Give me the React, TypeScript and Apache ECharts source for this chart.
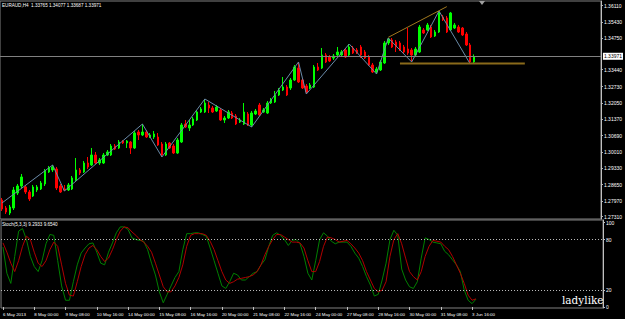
import React, { useEffect, useRef } from "react";
import * as echarts from "echarts";

const chartTitle = "EURAUD,H4  1.33765 1.34077 1.33687 1.33971";
const stochTitle = "Stoch(5,3,3) 9.2933 9.6540";
const watermark = "ladylike";

const timeLabels = [
  "6 May 2013", "8 May 00:00", "9 May 08:00", "10 May 16:00", "14 May 00:00", "15 May 08:00",
  "16 May 16:00", "20 May 00:00", "21 May 08:00", "22 May 16:00", "24 May 00:00", "27 May 08:00",
  "28 May 16:00", "30 May 00:00", "31 May 08:00", "3 Jun 16:00",
];

const opens = [
  1.28007, 1.27674, 1.27465, 1.27674, 1.28299, 1.28591, 1.2855, 1.28341, 1.28174, 1.28424,
  1.28466, 1.28675, 1.29175, 1.29259, 1.293, 1.28591, 1.28466, 1.28424, 1.28466, 1.28841,
  1.29259, 1.29175, 1.2955, 1.29467, 1.29884, 1.2955, 1.2955, 1.29884, 1.29884, 1.30259,
  1.30176, 1.30468, 1.30384, 1.30426, 1.30176, 1.30843, 1.30718, 1.30843, 1.30634, 1.30634,
  1.30634, 1.30342, 1.29884, 1.30384, 1.30259, 1.29967, 1.30426, 1.31176, 1.3101, 1.31135,
  1.31343, 1.31677, 1.31677, 1.31968, 1.31843, 1.31718, 1.3176, 1.31343, 1.31427, 1.31635,
  1.3151, 1.3126, 1.31176, 1.31593, 1.31135, 1.31593, 1.31968, 1.31677, 1.31635, 1.32052,
  1.32094, 1.32385, 1.32594, 1.32719, 1.32677, 1.33011, 1.33511, 1.33011, 1.32761, 1.32677,
  1.32719, 1.33553, 1.33511, 1.34054, 1.3397, 1.33928, 1.34054, 1.34054, 1.34262, 1.34054,
  1.34345, 1.34262, 1.34387, 1.34179, 1.3397, 1.33637, 1.33345, 1.33428, 1.3372, 1.34554,
  1.34679, 1.34596, 1.34554, 1.34387, 1.34304, 1.34262, 1.34054, 1.34179, 1.35096, 1.35096,
  1.35221, 1.34846, 1.35013, 1.35638, 1.35596, 1.35096, 1.35179, 1.35221, 1.35179, 1.34929,
  1.34471, 1.33765,
];
const closes = [
  1.27632, 1.27507, 1.27716, 1.28424, 1.28591, 1.28967, 1.28341, 1.28049, 1.2855, 1.2855,
  1.28716, 1.29217, 1.29342, 1.29384, 1.28508, 1.28341, 1.28424, 1.28633, 1.28925, 1.29259,
  1.29134, 1.2955, 1.29384, 1.29884, 1.2955, 1.29675, 1.29884, 1.30009, 1.30259, 1.30134,
  1.30426, 1.30384, 1.30468, 1.30176, 1.30801, 1.30718, 1.30843, 1.30634, 1.30718, 1.30759,
  1.30301, 1.29884, 1.30342, 1.30176, 1.29967, 1.30509, 1.31135, 1.31051, 1.31135, 1.31385,
  1.31677, 1.31802, 1.32052, 1.31843, 1.31677, 1.31885, 1.31343, 1.31427, 1.31677, 1.31427,
  1.31176, 1.31343, 1.31677, 1.31135, 1.31635, 1.31718, 1.31552, 1.3176, 1.32052, 1.32177,
  1.32385, 1.32594, 1.32719, 1.32385, 1.33011, 1.33553, 1.32928, 1.32677, 1.32511, 1.32802,
  1.33553, 1.33428, 1.34054, 1.33762, 1.33803, 1.34012, 1.34179, 1.34179, 1.3397, 1.34387,
  1.34137, 1.34137, 1.34054, 1.33928, 1.33637, 1.33345, 1.3347, 1.33762, 1.34554, 1.34721,
  1.34387, 1.34387, 1.34262, 1.34179, 1.34137, 1.34054, 1.34304, 1.35221, 1.34971, 1.35305,
  1.34804, 1.35013, 1.35847, 1.35513, 1.35013, 1.35805, 1.35305, 1.35013, 1.34888, 1.34471,
  1.33762, 1.33971,
];
const lows = [
  1.27549, 1.27424, 1.27382, 1.2759, 1.28216, 1.28508, 1.28258, 1.27966, 1.28133, 1.28341,
  1.28424, 1.28591, 1.29134, 1.29175, 1.28424, 1.28299, 1.28383, 1.28383, 1.28424, 1.288,
  1.2905, 1.29134, 1.293, 1.29425, 1.29509, 1.29467, 1.29509, 1.29842, 1.29842, 1.30092,
  1.30134, 1.30342, 1.30176, 1.29926, 1.30134, 1.30509, 1.30676, 1.30593, 1.30593, 1.30551,
  1.30259, 1.29801, 1.29842, 1.30134, 1.29926, 1.29926, 1.30384, 1.3101, 1.30884, 1.31093,
  1.31301, 1.31635, 1.31635, 1.31635, 1.31635, 1.31677, 1.31301, 1.31218, 1.31385, 1.31385,
  1.31135, 1.31218, 1.31135, 1.31093, 1.31051, 1.31552, 1.3151, 1.31635, 1.31593, 1.3201,
  1.32052, 1.32344, 1.32552, 1.32344, 1.32594, 1.32969, 1.32886, 1.32636, 1.32427, 1.32636,
  1.32677, 1.33386, 1.3347, 1.3372, 1.33762, 1.33845, 1.34012, 1.3397, 1.33928, 1.34012,
  1.34095, 1.34095, 1.33928, 1.33887, 1.33595, 1.33303, 1.33261, 1.33386, 1.33679, 1.34471,
  1.34345, 1.34179, 1.3422, 1.34095, 1.34054, 1.33762, 1.3397, 1.34137, 1.34929, 1.35054,
  1.34762, 1.34804, 1.34971, 1.35471, 1.34971, 1.35054, 1.35138, 1.34971, 1.34846, 1.34429,
  1.3368, 1.33687,
];
const highs = [
  1.28091, 1.27757, 1.27799, 1.2855, 1.28675, 1.29092, 1.28633, 1.28424, 1.28633, 1.28633,
  1.288, 1.293, 1.29425, 1.29467, 1.29384, 1.28675, 1.28633, 1.28716, 1.29008, 1.29759,
  1.29342, 1.29634, 1.29801, 1.30176, 1.30009, 1.29759, 1.29967, 1.30092, 1.30342, 1.30342,
  1.30509, 1.30509, 1.30509, 1.30468, 1.30884, 1.30926, 1.31176, 1.30926, 1.30801, 1.30884,
  1.30801, 1.30426, 1.30426, 1.30426, 1.30342, 1.30593, 1.31218, 1.31343, 1.31343, 1.31468,
  1.3176, 1.31885, 1.32219, 1.32094, 1.31927, 1.31968, 1.31843, 1.3151, 1.3176, 1.31718,
  1.31593, 1.31427, 1.32052, 1.31677, 1.31718, 1.31802, 1.32052, 1.31843, 1.32135, 1.3226,
  1.32552, 1.32677, 1.33136, 1.32802, 1.33094, 1.33637, 1.33762, 1.33094, 1.32844, 1.32886,
  1.33637, 1.3372, 1.34345, 1.34137, 1.34054, 1.34095, 1.34387, 1.34262, 1.34345, 1.34512,
  1.34429, 1.34345, 1.34471, 1.34262, 1.34054, 1.3372, 1.33553, 1.33845, 1.34637, 1.34762,
  1.34762, 1.34679, 1.34637, 1.34471, 1.35179, 1.34345, 1.34387, 1.35305, 1.35179, 1.35388,
  1.35305, 1.35096, 1.35888, 1.35722, 1.3568, 1.35847, 1.35388, 1.35305, 1.35221, 1.35013,
  1.34554, 1.34077,
];

const stochMain = [
  71, 40, 28, 60, 90, 93, 80, 60, 48, 42, 55, 75, 86, 85, 55, 25, 8, 8, 30, 50,
  64, 70, 75, 76, 65, 52, 50, 65, 76, 88, 95, 95, 92, 82, 80, 79, 78, 68, 52, 38,
  18, 5, 15, 25, 35, 42, 68, 87, 87, 88, 88, 86, 84, 70, 55, 40, 25, 22, 30, 40,
  38, 32, 32, 36, 40, 42, 50, 56, 72, 85, 88, 85, 80, 73, 79, 80, 75, 60, 40, 32,
  55, 80, 88, 84, 78, 75, 77, 77, 77, 72, 64, 58, 48, 36, 26, 13, 15, 32, 52, 80,
  91, 85, 45, 32, 24, 22, 30, 58, 82, 80, 77, 76, 75, 66, 62, 56, 50, 42, 20, 8,
  4, 9.2933,
];
const stochSignal = [
  76, 65, 52, 42, 55, 72, 84, 80, 65, 52, 48, 55, 68, 77, 72, 50, 28, 14, 13, 30,
  48, 62, 70, 73, 68, 60, 54, 58, 68, 80, 90, 95, 94, 89, 85, 80, 77, 72, 65, 52,
  38, 24, 18, 18, 25, 35, 50, 72, 85, 87, 87, 87, 85, 78, 68, 55, 42, 32, 28, 30,
  33, 34, 35, 36, 38, 42, 50, 62, 72, 80, 86, 86, 83, 80, 77, 77, 76, 70, 55, 42,
  42, 54, 72, 83, 82, 80, 77, 78, 79, 75, 70, 64, 55, 42, 32, 22, 18, 20, 30, 60,
  80, 87, 75, 58, 42, 36, 32, 42, 60, 72, 79, 78, 77, 72, 68, 60, 50, 40, 28, 14,
  8, 9.654,
];

const zigIdx = [0, 13, 16, 36, 41, 52, 64, 76, 78, 89, 96, 99, 105, 112, 120];
const zigVal = [1.27882, 1.29467, 1.28383, 1.31176, 1.29801, 1.32219, 1.31051, 1.33762, 1.32427, 1.34512, 1.33261, 1.34762, 1.33762, 1.35888, 1.3368];
const trendIdx = [99, 114];
const trendVal = [1.3479, 1.3607];
const supportIdx = [102, 134];
const supportVal = [1.337, 1.337];

const priceTicks = [1.2731, 1.2797, 1.2865, 1.2933, 1.3001, 1.3069, 1.3137, 1.3205, 1.3273, 1.3344, 1.3475, 1.3543, 1.3611];
const stochTicks = [0, 20, 80, 100];
const stochLevels = [20, 80];
const currentPrice = 1.33971;

const LABEL_EVERY = 8;
const SLOTS = 154;
const FONT = "'Liberation Sans', Arial, sans-serif";

function sparse(idx: number[], val: number[]) {
  const arr: (number | null)[] = new Array(SLOTS).fill(null);
  idx.forEach((k, j) => (arr[k] = val[j]));
  return arr;
}

export default function App() {
  const ref = useRef<HTMLDivElement>(null);
  useEffect(() => {
    document.body.style.margin = "0";
    document.body.style.background = "#000";
    const chart = echarts.init(ref.current!, null, { renderer: "svg" });
    const cats = Array.from({ length: SLOTS }, (_, i) => String(i));
    const showLabel = (i: number) => i % LABEL_EVERY === 0 && i / LABEL_EVERY < timeLabels.length;
    const candles = opens.map((o, i) => [o, closes[i], lows[i], highs[i]]);
    chart.setOption({
      animation: false,
      backgroundColor: "#000",
      grid: [
        { left: -2, right: 22, top: 1, height: 218, show: true, borderColor: "#808080", borderWidth: 1 },
        { left: -2, right: 22, top: 220, height: 88, show: true, borderColor: "#808080", borderWidth: 1 },
      ],
      xAxis: [
        { type: "category", gridIndex: 0, data: cats, axisLine: { show: false }, axisTick: { show: false }, axisLabel: { show: false }, splitLine: { show: false } },
        {
          type: "category", gridIndex: 1, data: cats, axisLine: { show: false },
          axisTick: { show: true, alignWithLabel: true, interval: (i: number) => showLabel(i), length: 3, lineStyle: { color: "#c0c0c0" } },
          axisLabel: {
            interval: (i: number) => showLabel(i), formatter: (_v: string, i: number) => timeLabels[i / LABEL_EVERY] ?? "",
            color: "#fff", fontSize: 4.4, fontFamily: FONT, align: "left", margin: 4, showMinLabel: true, hideOverlap: false,
          },
          splitLine: { show: false },
        },
      ],
      yAxis: [
        {
          type: "value", gridIndex: 0, position: "right", min: 1.27215, max: 1.36305, scale: true,
          axisLine: { show: true, lineStyle: { color: "#c0c0c0" } },
          axisTick: { show: true, length: 2, customValues: priceTicks, lineStyle: { color: "#c0c0c0" } },
          axisLabel: { customValues: priceTicks, formatter: (v: number) => v.toFixed(5), color: "#fff", fontSize: 5, fontFamily: FONT, margin: 3 },
          splitLine: { show: false },
        },
        {
          type: "value", gridIndex: 1, position: "right", min: -1.19, max: 103.2,
          axisLine: { show: true, lineStyle: { color: "#c0c0c0" } },
          axisTick: { show: true, length: 2, customValues: stochTicks, lineStyle: { color: "#c0c0c0" } },
          axisLabel: { customValues: stochTicks, formatter: (v: number) => String(v), color: "#fff", fontSize: 5, fontFamily: FONT, margin: 3 },
          splitLine: { show: false },
        },
      ],
      series: [
        {
          type: "candlestick", xAxisIndex: 0, yAxisIndex: 0, data: candles, barWidth: 2,
          itemStyle: { color: "#00ff00", color0: "#ff0000", borderColor: "#00ff00", borderColor0: "#ff0000", borderWidth: 1 },
          markLine: {
            silent: true, symbol: ["none", "none"], animation: false,
            lineStyle: { color: "#808080", width: 1, type: "solid" },
            label: { show: true, position: "end", formatter: currentPrice.toFixed(5), backgroundColor: "#fff", color: "#000", fontSize: 5, fontFamily: FONT, padding: [1, 1], distance: 2 },
            data: [{ yAxis: currentPrice }],
          },
        },
        { type: "line", xAxisIndex: 0, yAxisIndex: 0, data: sparse(zigIdx, zigVal), connectNulls: true, symbol: "none", lineStyle: { color: "#6a8aa8", width: 1 } },
        { type: "line", xAxisIndex: 0, yAxisIndex: 0, data: sparse(trendIdx, trendVal), connectNulls: true, symbol: "none", lineStyle: { color: "#a0781e", width: 1 } },
        { type: "line", xAxisIndex: 0, yAxisIndex: 0, data: sparse(supportIdx, supportVal), connectNulls: true, symbol: "none", lineStyle: { color: "#8a6a1a", width: 2 } },
        {
          type: "line", xAxisIndex: 1, yAxisIndex: 1, data: stochMain, symbol: "none", lineStyle: { color: "#008000", width: 1 },
          markLine: {
            silent: true, symbol: ["none", "none"], animation: false, label: { show: false },
            lineStyle: { color: "#c0c0c0", width: 1, type: [1, 2] },
            data: stochLevels.map((v) => ({ yAxis: v })),
          },
        },
        { type: "line", xAxisIndex: 1, yAxisIndex: 1, data: stochSignal, symbol: "none", lineStyle: { color: "#b00000", width: 1 } },
      ],
      graphic: [
        { type: "text", left: 2, top: 3, style: { text: chartTitle, fill: "#fff", fontSize: 4.6, fontFamily: FONT } },
        { type: "text", left: 2, top: 222, style: { text: stochTitle, fill: "#fff", fontSize: 4.6, fontFamily: FONT } },
        { type: "text", left: 562, top: 294, style: { text: watermark, fill: "#fff", fontSize: 10.5, fontFamily: "'DejaVu Serif', serif" } },
        { type: "polygon", shape: { points: [[479, 1], [485, 1], [482, 5]] }, style: { fill: "#a0a0a0" } },
      ],
    });
    return () => chart.dispose();
  }, []);
  return <div ref={ref} style={{ position: "fixed", left: 0, top: 0, width: 625, height: 319, background: "#000" }} />;
}
